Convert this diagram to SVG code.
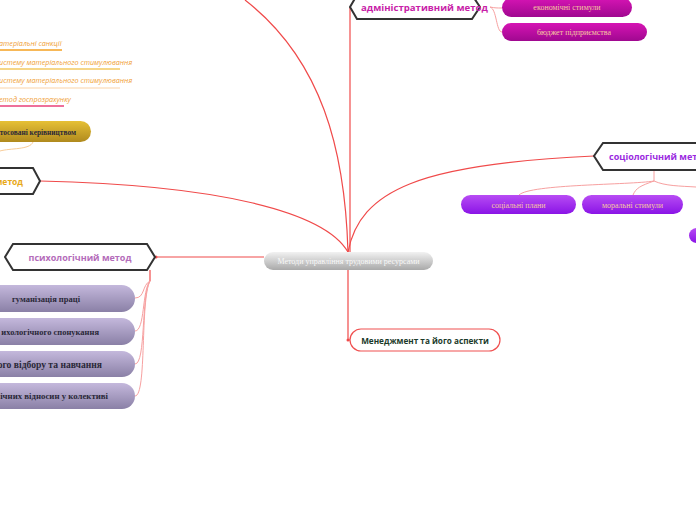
<svg xmlns="http://www.w3.org/2000/svg" width="696" height="520" viewBox="0 0 696 520">
<defs>
<linearGradient id="gCenter" x1="0" y1="0" x2="0" y2="1"><stop offset="0" stop-color="#f2f2f2"/><stop offset="1" stop-color="#a9a9a9"/></linearGradient>
<linearGradient id="gMag" x1="0" y1="0" x2="0" y2="1"><stop offset="0" stop-color="#d614b4"/><stop offset="1" stop-color="#a00890"/></linearGradient>
<linearGradient id="gPur" x1="0" y1="0" x2="0" y2="1"><stop offset="0" stop-color="#b84cf4"/><stop offset="1" stop-color="#8a14e6"/></linearGradient>
<linearGradient id="gLav" x1="0" y1="0" x2="0" y2="1"><stop offset="0" stop-color="#c4b8dc"/><stop offset="1" stop-color="#8a80a6"/></linearGradient>
<linearGradient id="gGold" x1="0" y1="0" x2="0" y2="1"><stop offset="0" stop-color="#e6c035"/><stop offset="1" stop-color="#b08a1e"/></linearGradient>
<style>
.main{fill:none;stroke:#f04a4a;stroke-width:1.2}
.sub{fill:none;stroke:#f7a0a0;stroke-width:1}
.hex{fill:#fff;stroke:#333;stroke-width:2}
.ht{font-family:"Open Sans","DejaVu Sans",sans-serif;font-weight:bold;font-size:9.5px}
.pt{font-family:"Liberation Serif",serif;font-size:8px;fill:#f6c8a0;text-anchor:middle}
.lt{font-family:"Liberation Serif",serif;font-weight:bold;font-size:8.5px;fill:#2a2838}
.it{font-family:"Open Sans","DejaVu Sans",sans-serif;font-style:italic;font-size:7.2px;fill:#f0a035}
.dot{fill:#f04a4a}
</style>
</defs>

<g id="connectors">
<path class="main" d="M348,252 C345,150 322,60 245,0"/>
<path class="main" d="M350,252 L350,7"/>
<path class="main" d="M348,252 C360,190 420,164 594,156"/>
<path class="main" d="M348,252 C325,212 220,185 40,181"/>
<path class="main" d="M264,257 L155,257"/>
<path class="main" d="M348,270 L348,340 L350,340"/>
<circle class="dot" cx="156" cy="257" r="1.5"/>
<circle class="dot" cx="36" cy="181" r="1.5"/>
<circle class="dot" cx="595" cy="156" r="1.5"/>
<circle class="dot" cx="348" cy="340" r="1.5"/>
<path class="sub" d="M490,7 C495,8 497,8 502,8"/>
<path class="sub" d="M490,7 C497,9 496,32 502,32"/>
<path class="sub" d="M654,170 L654,181"/>
<path class="sub" d="M654,181 C630,185 530,184 519,195"/>
<path class="sub" d="M654,181 C640,186 636,188 633,195"/>
<path class="sub" d="M654,181 C665,186 680,186 696,187"/>
<path class="main" d="M150,270 L150,281"/>
<path class="sub" d="M150,281 C142,285 145,298 135,298"/>
<path class="sub" d="M150,281 C142,290 145,331 135,331"/>
<path class="sub" d="M150,281 C141,295 146,364 135,364"/>
<path class="sub" d="M150,281 C140,300 147,396 135,396"/>
<path d="M33,142 C30,150 10,148 0,151" fill="none" stroke="#f8cc98" stroke-width="1"/>
</g>

<g id="center">
<rect x="264" y="252" width="169" height="18" rx="9" fill="url(#gCenter)"/>
<text x="348.5" y="264" font-family="Liberation Serif,serif" font-size="8px" fill="#f8f8f8" text-anchor="middle">Методи управління трудовими ресурсами</text>
</g>

<g id="admin">
<path class="hex" d="M357,-5 L472,-5 L480,7 L472,19 L357,19 L350,7 Z"/>
<text class="ht" x="361" y="10.5" fill="#c81ea8" style="font-size:9.6px">адміністративний метод</text>
</g>
<g id="econ">
<rect x="502" y="-2" width="130" height="19" rx="9.5" fill="url(#gMag)"/>
<text class="pt" x="567" y="10">економічні стимули</text>
</g>
<g id="budget">
<rect x="502" y="23" width="145" height="18" rx="9" fill="url(#gMag)"/>
<text class="pt" x="574" y="35">бюджет підприємства</text>
</g>

<g id="socio">
<path class="hex" d="M603,143 L700,143 L700,170 L603,170 L594,156 Z"/>
<text class="ht" x="609" y="160" fill="#9a2ae0" style="font-size:9px">соціологічний метод</text>
</g>
<g id="social-plans">
<rect x="461" y="195" width="115" height="19" rx="9.5" fill="url(#gPur)"/>
<text class="pt" x="518.5" y="208">соціальні плани</text>
</g>
<g id="moral">
<rect x="582" y="195" width="101" height="19" rx="9.5" fill="url(#gPur)"/>
<text class="pt" x="632.5" y="208">моральні стимули</text>
</g>
<g id="purple3">
<rect x="689" y="228" width="30" height="15" rx="7.5" fill="url(#gPur)"/>
</g>

<g id="econ-method">
<path class="hex" d="M-20,168 L33,168 L40,181 L33,194 L-20,194 Z"/>
<text class="ht" x="23" y="184.5" fill="#e8a818" text-anchor="end" style="font-size:8.5px">метод</text>
</g>
<g id="gold-pill">
<rect x="-40" y="121" width="131" height="21" rx="10.5" fill="url(#gGold)"/>
<text class="lt" x="76" y="134.5" fill="#3a3010" text-anchor="end" style="font-size:7.4px">тосовані керівництвом</text>
</g>

<g id="sanctions">
<text class="it" x="-1" y="46">атеріальні санкції</text>
<line x1="0" y1="50" x2="62" y2="50" stroke="#f5a020" stroke-width="1.5"/>
</g>
<g id="system1">
<text class="it" x="-1" y="65">истему матеріального стимулювання</text>
<line x1="0" y1="69" x2="120" y2="69" stroke="#f3c860" stroke-width="1.5"/>
</g>
<g id="system2">
<text class="it" x="-1" y="83">истему матеріального стимулювання</text>
<line x1="0" y1="88" x2="120" y2="88" stroke="#fde2c4" stroke-width="1.5"/>
</g>
<g id="khozrozrakhunok">
<text class="it" x="-1" y="102">етод госпрозрахунку</text>
<line x1="0" y1="106" x2="64" y2="106" stroke="#e8407a" stroke-width="1.5"/>
</g>

<g id="psych">
<path class="hex" d="M13,244 L147,244 L155,257 L147,270 L13,270 L5,257 Z"/>
<text class="ht" x="80" y="260.5" fill="#b46cba" text-anchor="middle" style="font-size:9px">психологічний метод</text>
</g>
<g id="p1">
<rect x="-40" y="285" width="175" height="27" rx="13.5" fill="url(#gLav)"/>
<text class="lt" x="46" y="301.5" text-anchor="middle">гуманізація праці</text>
</g>
<g id="p2">
<rect x="-40" y="318" width="175" height="27" rx="13.5" fill="url(#gLav)"/>
<text class="lt" x="99" y="334.5" text-anchor="end">ихологічного спонукання</text>
</g>
<g id="p3">
<rect x="-40" y="351" width="175" height="26" rx="13" fill="url(#gLav)"/>
<text class="lt" x="102" y="367.5" text-anchor="end" style="font-size:9.6px">ого відбору та навчання</text>
</g>
<g id="p4">
<rect x="-40" y="383" width="175" height="26" rx="13" fill="url(#gLav)"/>
<text class="lt" x="108" y="399" text-anchor="end" style="font-size:8.8px">ічних відносин у колективі</text>
</g>

<g id="management">
<rect x="350" y="329" width="150" height="22" rx="11" fill="#fff" stroke="#f05050" stroke-width="1.2"/>
<text x="425" y="343.5" font-family="Open Sans,DejaVu Sans,sans-serif" font-weight="bold" font-size="8.2px" fill="#1b3a2a" text-anchor="middle">Менеджмент та його аспекти</text>
</g>
</svg>
